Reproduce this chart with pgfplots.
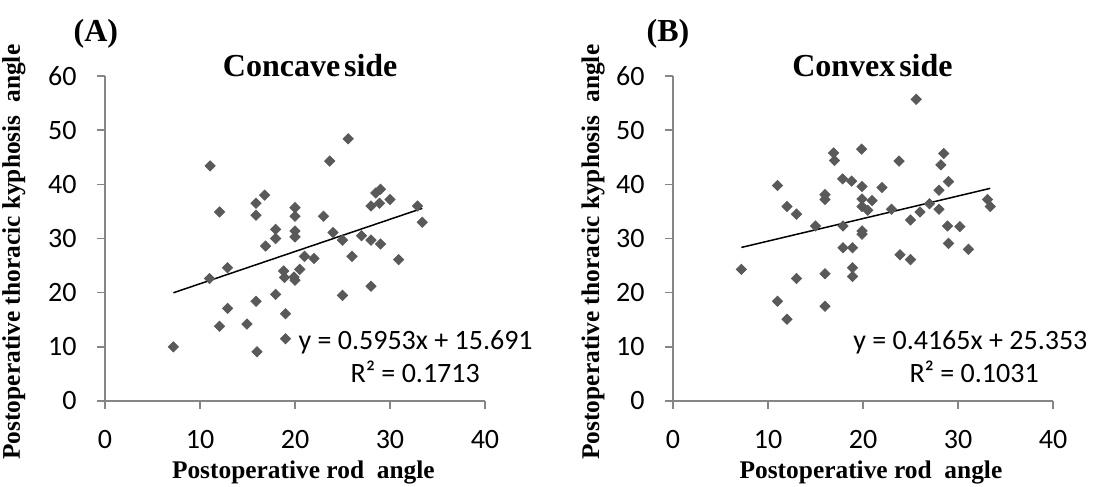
\documentclass[border=0pt]{standalone}
\usepackage{pgfplots}
\pgfplotsset{compat=1.18}
\usepackage{fontspec}
\setmainfont{Liberation Serif}
\newfontfamily\calfont{Carlito}
\definecolor{axgray}{HTML}{868686}
\definecolor{mk}{HTML}{595959}
\pgfplotsset{
  panel/.style={
    scale only axis, width=190pt, height=162.5pt,
    anchor=south west,
    xmin=0, xmax=40, ymin=0, ymax=60,
    xtick={0,20,40},
    extra x ticks={10,30},
    extra x tick labels={10,30},
    extra x tick style={grid=none},
    ytick={0,10,20,30,40,50,60},
    axis lines=left, axis line style={axgray, line width=0.8pt, -},
    tick style={axgray, line width=0.8pt}, tick align=outside,
    major tick length=4pt,
    /pgf/number format/assume math mode=true,
    ticklabel style={font=\calfont\fontsize{14}{14}\selectfont, inner sep=0pt, text=black},
    yticklabel style={anchor=east, xshift=-10pt},
    xticklabel style={anchor=north, yshift=-10.5pt},
    clip=false,
    xlabel style={font=\bfseries\fontsize{12.7}{14}\selectfont, anchor=base},
    ylabel style={font=\bfseries\fontsize{12.7}{14}\selectfont, anchor=center, rotate=0},
  }
}
\begin{document}
\begin{tikzpicture}
\path[use as bounding box] (0,0) rectangle (555pt,243.5pt);
% ---------- Panel A ----------
\begin{axis}[panel, at={(52.5pt,43pt)},
  xlabel={Postoperative rod\ \ angle},
  xlabel style={at={(axis description cs:0.522,-0.237)}},
  ylabel={Postoperative thoracic kyphosis\ \ angle},
  ylabel style={at={(axis description cs:-0.2395,0.458)}},
]
\addplot[only marks, mark=square*, mark size=1.8pt, mark options={rotate=45, fill=mk, draw=mk}] table {
x y
7.2 10.0
11.07 43.4
11.0 22.6
12.06 34.9
12.06 13.8
12.9 24.6
12.9 17.1
14.94 14.2
15.9 36.5
15.9 34.3
15.9 18.4
16.0 9.1
16.8 38.0
16.9 28.6
17.96 31.7
17.96 30.0
17.96 19.7
18.8 24.0
18.9 22.8
19.0 16.1
19.0 11.5
20.0 35.7
20.0 34.1
20.0 31.4
20.0 30.3
19.9 22.9
20.0 22.3
20.5 24.3
21.0 26.7
22.0 26.3
23.0 34.1
23.65 44.3
24.0 31.1
25.0 29.7
25.0 19.5
25.6 48.4
26.0 26.7
27.0 30.5
28.0 36.0
28.0 29.7
28.0 21.2
28.5 38.4
29.0 39.1
28.9 36.5
29.0 29.0
30.0 37.2
30.9 26.1
32.9 36.0
33.4 33.0
};
\addplot[black, line width=0.75pt] coordinates {(7.2,19.98) (33.4,35.57)};
\node[font=\calfont\fontsize{14}{14}\selectfont, anchor=base] at (axis cs:32.7,9.43) {y = 0.5953x + 15.691};
\node[font=\calfont\fontsize{14}{14}\selectfont, anchor=base] at (axis cs:32.65,3.5) {R² = 0.1713};
\node[font=\bfseries\fontsize{16}{18}\selectfont, anchor=base] at (axis description cs:0.54,0.997) {Concave\hspace{0.12em}side};
\node[font=\bfseries\fontsize{16}{18}\selectfont, anchor=base] at (axis description cs:-0.024,1.105) {(A)};
\end{axis}
% ---------- Panel B ----------
\begin{axis}[panel, at={(336.5pt,43pt)},
  xlabel={Postoperative rod\ \ angle},
  xlabel style={at={(axis description cs:0.521,-0.237)}},
  ylabel={Postoperative thoracic kyphosis\ \ angle},
  ylabel style={at={(axis description cs:-0.2105,0.458)}},
]
\addplot[only marks, mark=square*, mark size=1.8pt, mark options={rotate=45, fill=mk, draw=mk}] table {
x y
7.2 24.3
11.0 39.8
11.0 18.4
12.0 35.9
12.0 15.1
13.0 34.5
13.0 22.6
15.0 32.3
16.0 38.1
16.0 37.2
16.0 23.5
16.0 17.5
16.9 45.8
17.0 44.4
17.85 41.0
17.9 32.3
17.9 28.3
18.8 40.6
18.9 28.3
18.9 24.6
18.9 23.0
19.86 46.5
19.9 39.6
19.9 37.3
19.9 35.9
19.9 31.4
19.9 30.8
20.5 35.2
20.95 37.0
22.0 39.4
23.0 35.4
23.8 44.3
23.9 27.0
25.0 33.4
25.0 26.1
25.6 55.7
26.0 34.9
27.0 36.4
28.0 38.9
28.0 35.4
28.2 43.6
28.5 45.7
28.9 32.3
29.0 40.5
29.0 29.1
30.2 32.2
31.1 28.0
33.1 37.2
33.4 35.9
};
\addplot[black, line width=0.75pt] coordinates {(7.2,28.35) (33.4,39.26)};
\node[font=\calfont\fontsize{14}{14}\selectfont, anchor=base] at (axis cs:31.3,9.43) {y = 0.4165x + 25.353};
\node[font=\calfont\fontsize{14}{14}\selectfont, anchor=base] at (axis cs:31.7,3.5) {R² = 0.1031};
\node[font=\bfseries\fontsize{16}{18}\selectfont, anchor=base] at (axis description cs:0.525,0.997) {Convex\hspace{0.12em}side};
\node[font=\bfseries\fontsize{16}{18}\selectfont, anchor=base] at (axis description cs:-0.013,1.105) {(B)};
\end{axis}
\end{tikzpicture}
\end{document}
